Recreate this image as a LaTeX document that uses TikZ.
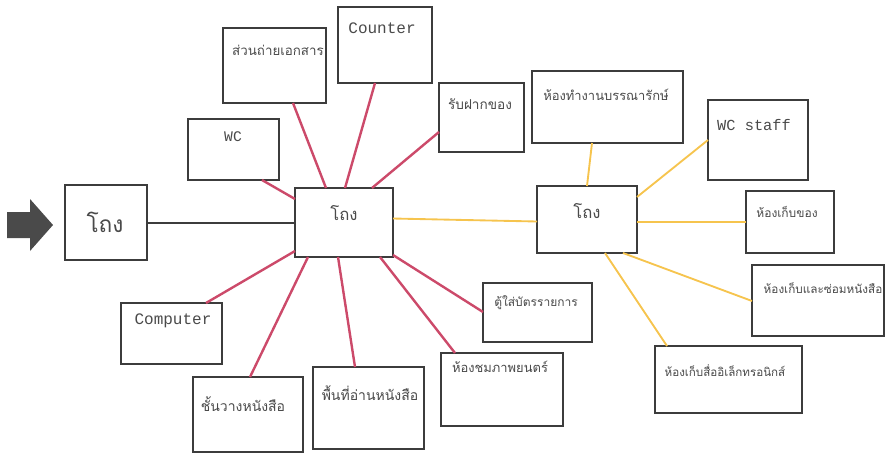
\documentclass[tikz,border=0pt]{standalone}
\usepackage{fontspec}
\newfontfamily\thaifont[Script=Thai]{Loma}
\newfontfamily\latinmono{Liberation Mono}
\usetikzlibrary{calc}
\definecolor{boxline}{HTML}{3C3C3C}
\definecolor{inkgrey}{HTML}{4A4A4A}
\definecolor{redlink}{HTML}{CC4A6A}
\definecolor{yellink}{HTML}{F6C44E}
\definecolor{arrowgrey}{HTML}{4A4A4A}
\begin{document}
\begin{tikzpicture}[x=0.75pt,y=-0.75pt,
  room/.style={draw=boxline, line width=1.9pt, fill=white, inner sep=0pt, outer sep=0pt},
  thtext/.style={text=inkgrey, inner sep=0pt, font=\thaifont\fontsize{#1}{12}\selectfont},
  thtext/.default=10.5,
  entext/.style={text=inkgrey, inner sep=0pt, font=\latinmono\fontsize{#1}{13}\selectfont},
  entext/.default=12,
  redline/.style={draw=redlink, line width=1.8pt},
  yelline/.style={draw=yellink, line width=1.4pt},
  hallline/.style={draw=boxline, line width=1.5pt}]
\useasboundingbox (0,0) rectangle (887,454);

% rooms, given by their corners (one unit = 0.75pt)
\newcommand{\room}[5]{\node[room, anchor=north west,
  minimum width={(#4-#2)*0.75pt}, minimum height={(#5-#3)*0.75pt}] (#1) at (#2,#3) {};}
\room{entry}{65}{185}{147}{260}
\room{hubA}{295}{188}{393}{257}
\room{hubB}{537}{186}{637}{253}
\room{copy}{223}{28}{326}{103}
\room{counter}{338}{7}{432}{83}
\room{deposit}{439}{83}{524}{152}
\room{wc}{188}{119}{279}{180}
\room{librarian}{532}{71}{683}{143}
\room{wcstaff}{708}{100}{808}{180}
\room{store}{746}{191}{834}{253}
\room{repair}{752}{265}{884}{336}
\room{emedia}{655}{346}{802}{413}
\room{catalog}{483}{283}{592}{342}
\room{cinema}{441}{353}{563}{426}
\room{reading}{313}{367}{424}{449}
\room{shelf}{193}{377}{303}{452}
\room{computer}{121}{303}{222}{364}

% entrance arrow
\fill[arrowgrey] (7,212) -- (30,212) -- (30,199) -- (53,225) -- (30,251) -- (30,238) -- (7,238) -- cycle;

% labels
\node[thtext=17] (entry-t) at (105,222) {โถง};
\node[thtext=12.5] (hubA-t) at (344,213) {โถง};
\node[thtext=12.5] (hubB-t) at (587,211) {โถง};
\node[thtext=10] (copy-t) at (278,50) {ส่วนถ่ายเอกสาร};
\node[entext] (counter-t) at (382,28) {Counter};
\node[thtext=10.2] (deposit-t) at (480,104) {รับฝากของ};
\node[entext=11] (wc-t) at (233,137) {WC};
\node[thtext=9.7] (librarian-t) at (606,95) {ห้องทำงานบรรณารักษ์};
\node[entext=11.5] (wcstaff-t) at (754,125) {WC staff};
\node[thtext=9] (store-t) at (787,212) {ห้องเก็บของ};
\node[thtext=8.8] (repair-t) at (823,288) {ห้องเก็บและซ่อมหนังสือ};
\node[thtext=8.7] (emedia-t) at (725,371) {ห้องเก็บสื่ออิเล็กทรอนิกส์};
\node[thtext=9] (catalog-t) at (536,303) {ตู้ใส่บัตรรายการ};
\node[thtext=9.7] (cinema-t) at (500,367) {ห้องชมภาพยนตร์};
\node[thtext] (reading-t) at (370,393) {พื้นที่อ่านหนังสือ};
\node[thtext] (shelf-t) at (243,404) {ชั้นวางหนังสือ};
\node[entext] (computer-t) at (173,321) {Computer};

% entrance hall to main hall
\draw[hallline] (entry.east) -- (entry.east -| hubA.west);

% main hall links
\draw[redline] ($(wc.south east)+(-17,0)$) -- ($(hubA.north west)+(0,11)$);
\draw[redline] ($(copy.south west)+(70,0)$) -- ($(hubA.north west)+(31,0)$);
\draw[redline] ($(counter.south west)+(37,0)$) -- ($(hubA.north west)+(50,0)$);
\draw[redline] ($(deposit.north west)+(0,49)$) -- ($(hubA.north west)+(77,0)$);
\draw[redline] ($(computer.north west)+(85,0)$) -- ($(hubA.south west)+(0,-6)$);
\draw[redline] ($(shelf.north west)+(57,0)$) -- ($(hubA.south west)+(13,0)$);
\draw[redline] ($(reading.north west)+(42,0)$) -- ($(hubA.south west)+(43,0)$);
\draw[redline] ($(cinema.north west)+(14,0)$) -- ($(hubA.south west)+(85,0)$);
\draw[redline] ($(catalog.north west)+(0,29)$) -- ($(hubA.south east)+(0,-2)$);

% staff hall links
\draw[yelline] ($(hubA.east)+(0,-4)$) -- ($(hubB.west)+(0,2)$);
\draw[yelline] ($(librarian.south west)+(60,0)$) -- ($(hubB.north west)+(50,0)$);
\draw[yelline] ($(wcstaff.south west)+(0,-40)$) -- ($(hubB.north east)+(0,11)$);
\draw[yelline] (store.west) -- ($(hubB.south east)+(0,-31)$);
\draw[yelline] ($(repair.north west)+(0,36)$) -- ($(hubB.south east)+(-14,0)$);
\draw[yelline] ($(emedia.north west)+(12,0)$) -- ($(hubB.south west)+(68,0)$);
\end{tikzpicture}
\end{document}
